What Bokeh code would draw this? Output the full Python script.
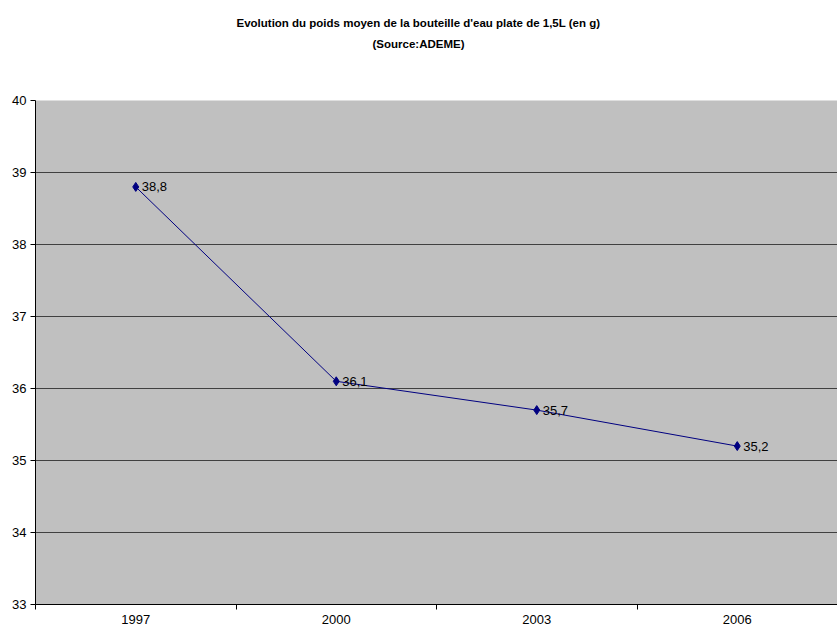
from bokeh.plotting import figure
from bokeh.models import ColumnDataSource, LabelSet, Title, FixedTicker, Range1d
from bokeh.core.properties import value
from bokeh.embed import file_html
from bokeh.resources import INLINE

years = ["1997", "2000", "2003", "2006"]
weights = [38.8, 36.1, 35.7, 35.2]
y_ticks = [33, 34, 35, 36, 37, 38, 39, 40]
title_line1 = "Evolution du poids moyen de la bouteille d'eau plate de 1,5L (en g)"
title_line2 = "(Source:ADEME)"

FONT = "Liberation Sans"

xs = [i + 0.5 for i in range(len(years))]
labels = [f"{w:.1f}".replace(".", ",") for w in weights]
src = ColumnDataSource(dict(x=xs, y=weights, lab=labels))

W, H = 837, 634
p = figure(width=W, height=H, output_backend="svg", toolbar_location=None,
           x_range=Range1d(0, len(years)), y_range=Range1d(33, 40),
           min_border_left=35, min_border_right=0, min_border_bottom=30, min_border_top=0)
p.border_fill_color = "white"
p.background_fill_color = "#C0C0C0"
p.outline_line_color = None

def spacer(s):
    return Title(text=" ", text_font_size="2px", standoff=s, text_color="white")

p.add_layout(spacer(43), "above")
p.add_layout(Title(text=title_line2, align="left", offset=337, text_font=FONT, text_font_size="11.5px",
                   text_font_style="bold", text_color="black", standoff=7), "above")
p.add_layout(Title(text=title_line1, align="left", offset=201, text_font=FONT, text_font_size="11.5px",
                   text_font_style="bold", text_color="black", standoff=7), "above")
p.add_layout(spacer(7), "above")

p.line("x", "y", source=src, line_color="#000080", line_width=1)
p.scatter("x", "y", source=src, marker="diamond", size=9, fill_color="#000080", line_color="#000080")
p.add_layout(LabelSet(x="x", y="y", text="lab", source=src, x_offset=6, y_offset=0,
                      text_baseline="middle", text_font=value(FONT), text_font_size="13px",
                      text_color="black"))

xa = p.xaxis[0]
xa.ticker = FixedTicker(ticks=xs, minor_ticks=list(range(len(years) + 1)))
xa.major_label_overrides = {x: y for x, y in zip(xs, years)}
xa.major_tick_out = 0
xa.major_tick_in = 0
xa.minor_tick_out = 5
xa.minor_tick_in = 0
xa.minor_tick_line_color = "black"
xa.axis_line_color = "black"
xa.major_label_standoff = 5
xa.major_label_text_font = FONT
xa.major_label_text_font_size = "13px"
xa.major_label_text_color = "black"

ya = p.yaxis[0]
ya.ticker = FixedTicker(ticks=y_ticks)
ya.major_tick_out = 5
ya.major_tick_in = 0
ya.minor_tick_out = 0
ya.minor_tick_in = 0
ya.major_tick_line_color = "black"
ya.axis_line_color = "black"
ya.major_label_standoff = 4
ya.major_label_text_font = FONT
ya.major_label_text_font_size = "13px"
ya.major_label_text_color = "black"

p.xgrid.grid_line_color = None
p.ygrid.grid_line_color = "#404040"
p.ygrid.grid_line_width = 1

open("out.html", "w").write(file_html(p, INLINE))
